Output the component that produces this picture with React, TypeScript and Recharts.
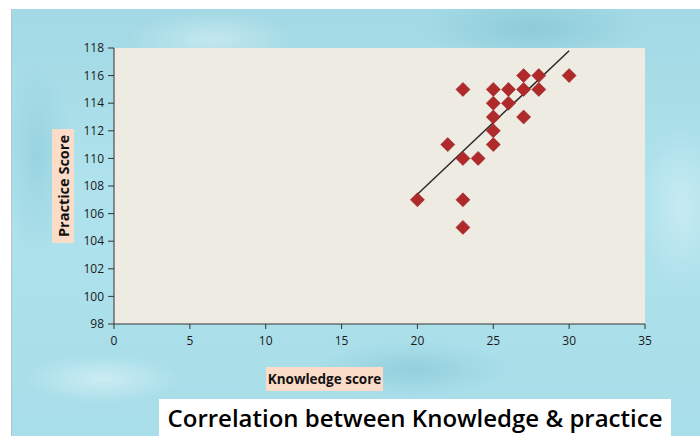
import React from 'react';
import {
    ScatterChart, Scatter, XAxis, YAxis, CartesianGrid, ReferenceLine, Label
} from 'recharts';

// knowledge score (x) / practice score (y) per respondent
const knowledge = [20, 22, 23, 23, 23, 23, 24, 25, 25, 25, 25, 25, 26, 26, 27, 27, 27, 28, 28, 30];
const practice = [107, 111, 115, 110, 107, 105, 110, 115, 114, 113, 112, 111, 115, 114, 116, 115, 113, 116, 115, 116];

// trend line end points
const trendX = [20, 30];
const trendY = [107.4, 117.8];

const xTicks = [0, 5, 10, 15, 20, 25, 30, 35];
const yTicks = [98, 100, 102, 104, 106, 108, 110, 112, 114, 116, 118];

const points = knowledge.map((k, i) => ({ k, p: practice[i] }));
const trend = trendX.map((x, i) => ({ x, y: trendY[i] }));

const tickStyle = { fill: '#1a1a1a', fontSize: 12, fontFamily: 'Open Sans, sans-serif' };

// rotated square marker
const Diamond = (props: any) => {
    const { cx, cy } = props;
    const h = 7;
    return (
        <polygon
            points={`${cx},${cy - h} ${cx + h},${cy} ${cx},${cy + h} ${cx - h},${cy}`}
            fill="#B02A2C"
            stroke="#9A2224"
            strokeWidth={0.6}
        />
    );
};

const YTitle = (props: any) => {
    const { viewBox } = props;
    const x = viewBox.x - 22;
    const cy = 177;
    return (
        <g>
            <rect x={x} y={cy - 57} width={22} height={114} fill="#FADCC8" />
            <text
                x={x + 11}
                y={cy}
                transform={`rotate(-90, ${x + 11}, ${cy})`}
                textAnchor="middle"
                dominantBaseline="central"
                fontFamily="Open Sans, sans-serif"
                fontWeight="bold"
                fontSize={14.5}
                fill="#111"
            >
                Practice Score
            </text>
        </g>
    );
};

const XTitle = (props: any) => {
    const { viewBox } = props;
    const x = 254;
    const y = viewBox.y + 43;
    return (
        <g>
            <rect x={x} y={y} width={117} height={24} fill="#FADCC8" />
            <text
                x={x + 58.5}
                y={y + 12}
                textAnchor="middle"
                dominantBaseline="central"
                fontFamily="Open Sans, sans-serif"
                fontWeight="bold"
                fontSize={13.5}
                fill="#111"
            >
                Knowledge score
            </text>
        </g>
    );
};

const water = [
    'radial-gradient(ellipse 120px 40px at 200px 30px, rgba(255,255,255,0.35), rgba(255,255,255,0) 70%)',
    'radial-gradient(ellipse 160px 50px at 520px 20px, rgba(90,170,190,0.3), rgba(90,170,190,0) 70%)',
    'radial-gradient(ellipse 110px 35px at 90px 370px, rgba(255,255,255,0.4), rgba(255,255,255,0) 70%)',
    'radial-gradient(ellipse 140px 40px at 400px 360px, rgba(80,160,180,0.25), rgba(80,160,180,0) 70%)',
    'radial-gradient(ellipse 60px 120px at 670px 200px, rgba(255,255,255,0.3), rgba(255,255,255,0) 70%)',
    'radial-gradient(ellipse 50px 140px at 25px 150px, rgba(90,170,190,0.25), rgba(90,170,190,0) 70%)',
    'linear-gradient(180deg, #a2d9e4 0%, #afe2ec 40%, #a8dee9 100%)',
].join(', ');

export default function App() {
    return (
        <div
            style={{
                position: 'absolute',
                left: 11,
                top: 9,
                width: 689,
                height: 427,
                background: water,
                borderLeft: '1px solid #b9c4c6',
                boxSizing: 'border-box',
            }}
        >
            <ScatterChart
                width={688}
                height={427}
                margin={{ top: 39, right: 55, bottom: 92, left: 62 }}
            >
                <CartesianGrid fill="#EEEBE2" stroke="none" horizontal={false} vertical={false} />
                <XAxis
                    type="number"
                    dataKey="k"
                    domain={[0, 35]}
                    ticks={xTicks}
                    interval={0}
                    height={20}
                    stroke="#333"
                    tickSize={5}
                    tickMargin={7}
                    tick={tickStyle}
                    allowDataOverflow
                >
                    <Label content={<XTitle />} />
                </XAxis>
                <YAxis
                    type="number"
                    dataKey="p"
                    domain={[98, 118]}
                    ticks={yTicks}
                    interval={0}
                    width={40}
                    stroke="#333"
                    tickSize={6}
                    tickMargin={4}
                    tick={tickStyle}
                    allowDataOverflow
                >
                    <Label content={<YTitle />} />
                </YAxis>
                <ReferenceLine
                    segment={trend}
                    stroke="#2a2a2a"
                    strokeWidth={1.5}
                    ifOverflow="visible"
                />
                <Scatter data={points} shape={<Diamond />} isAnimationActive={false} />
            </ScatterChart>
            <div
                style={{
                    position: 'absolute',
                    left: 147,
                    top: 390,
                    width: 512,
                    height: 37,
                    background: '#fff',
                    display: 'flex',
                    alignItems: 'center',
                    justifyContent: 'center',
                    fontFamily: 'Open Sans, sans-serif',
                    fontSize: 24,
                    fontWeight: 600,
                    color: '#000',
                    whiteSpace: 'nowrap',
                }}
            >
                Correlation between Knowledge &amp; practice
            </div>
        </div>
    );
}
